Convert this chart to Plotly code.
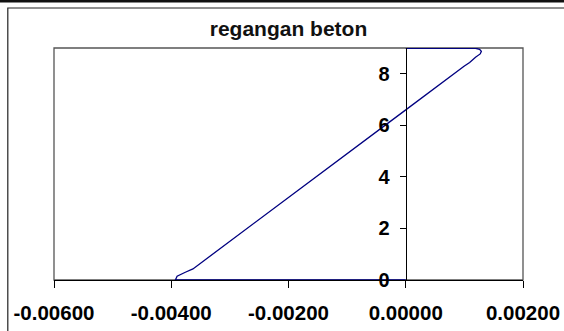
import plotly.graph_objects as go

# Concrete strain profile over the section height
strain = [0.0, 0.00058, 0.00100, 0.00119, 0.00126, 0.00129, 0.00127, 0.00119, 0.00109,
          0.00100, 0.0, -0.00100, -0.00200, -0.00300, -0.00363, -0.00376, -0.00390,
          -0.00393, -0.00300, -0.00200, -0.00100, 0.0]
height = [8.99, 9.0, 9.0, 8.99, 8.95, 8.87, 8.77, 8.64, 8.44,
          8.30, 6.60, 4.90, 3.19, 1.49, 0.43, 0.30, 0.15,
          0.0, 0.0, 0.0, 0.0, 0.0]

x_ticks = [-0.006, -0.004, -0.002, 0.0, 0.002]
x_tick_text = ["-0.00600", "-0.00400", "-0.00200", "0.00000", "0.00200"]
y_ticks = [0, 2, 4, 6, 8]

FONT = "Arial, Liberation Sans, sans-serif"

fig = go.Figure()
fig.add_trace(go.Scatter(
    x=strain, y=height, mode="lines",
    line=dict(color="#000080", width=1.3),
    cliponaxis=False, showlegend=False, hoverinfo="skip",
))

# plot-area box
fig.add_shape(type="rect", xref="paper", yref="paper", x0=0, x1=1, y0=0, y1=1,
              line=dict(color="#555555", width=1.3), layer="below")
# outer chart frame
fig.add_shape(type="path", xref="paper", yref="paper",
              path="M -0.0985,-0.4 L -0.0985,1.1724 L 1.2,1.1724",
              line=dict(color="#222222", width=1.2))
# dark band along the top edge
fig.add_shape(type="rect", xref="paper", yref="paper", x0=-0.2, x1=1.2,
              y0=1.1965, y1=1.215, line=dict(width=0), fillcolor="#111111")

fig.update_layout(
    template="none",
    width=564, height=331,
    margin=dict(l=54, r=41, t=48, b=51, autoexpand=False),
    paper_bgcolor="white", plot_bgcolor="white",
    title=dict(text="<b>regangan beton</b>", x=0.5, xref="paper", xanchor="center",
               y=1 - 29 / 331, yref="container", yanchor="middle",
               font=dict(family=FONT, size=21, color="#111111")),
    xaxis=dict(range=[-0.006, 0.002], tickvals=x_ticks, ticktext=x_tick_text,
               automargin=False,
               showgrid=False, zeroline=False, showline=True, linecolor="black",
               linewidth=1.2, ticks="outside", ticklen=7, tickcolor="black",
               tickwidth=1.2, ticklabelstandoff=7, layer="below traces",
               ticklabeloverflow="allow",
               tickfont=dict(family=FONT, size=20.5, color="black", weight="bold")),
    yaxis=dict(range=[0, 9], tickvals=y_ticks, anchor="free", position=0.75,
               automargin=False,
               showgrid=False, zeroline=False, showline=True, linecolor="black",
               linewidth=1.2, ticks="outside", ticklen=6, tickcolor="black",
               tickwidth=1.2, ticklabelstandoff=6,
               tickfont=dict(family=FONT, size=20, color="black", weight="bold")),
)

fig.write_html("out.html")
